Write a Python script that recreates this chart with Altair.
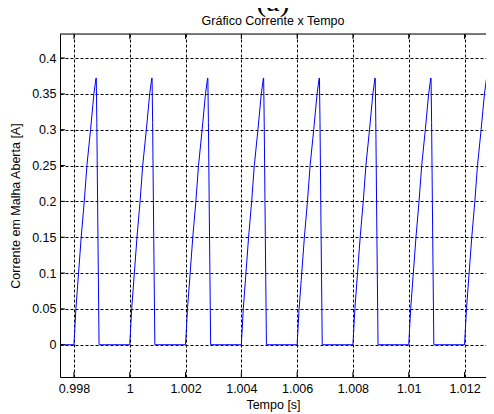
import altair as alt
import pandas as pd

# ---- data ----
cycle_starts = [0.998, 1.000, 1.002, 1.004, 1.006, 1.008, 1.010, 1.012]
shape_dt = [0, 0.00007, 0.000165, 0.00026, 0.00037, 0.000465, 0.000595,
            0.000715, 0.00079, 0.0008, 0.00082, 0.00086, 0.0009]
shape_val = [0, 0.05, 0.1, 0.15, 0.2, 0.25, 0.3, 0.35, 0.372, 0.372, 0.31, 0.15, 0]
t_start, t_end = 0.9975, 1.01277
x_ticks = [0.998, 1.0, 1.002, 1.004, 1.006, 1.008, 1.01, 1.012]
y_ticks = [0, 0.05, 0.1, 0.15, 0.2, 0.25, 0.3, 0.35, 0.4]
y_domain = [-0.045, 0.4335]

rows = [{"t": t_start, "i": 0.0}]
for c in cycle_starts:
    for dt, v in zip(shape_dt, shape_val):
        rows.append({"t": round(c + dt, 7), "i": v})
df = pd.DataFrame(rows)
df["k"] = range(len(df))

W, H = 426, 343
FONT = "Liberation Sans"
FS = 12.5

xscale = alt.Scale(domain=[t_start, t_end], nice=False, zero=False)
yscale = alt.Scale(domain=y_domain, nice=False, zero=False)

xaxis = alt.Axis(values=x_ticks, format="~g", grid=True, gridColor="black",
                 gridDash=[3, 2], gridWidth=1, gridOpacity=1, ticks=False,
                 domain=True, domainColor="black", domainWidth=1,
                 labelFont=FONT, labelFontSize=FS, labelColor="black",
                 labelPadding=5, labelFlush=False, labelOverlap=False,
                 title="Tempo [s]", titleFont=FONT, titleFontSize=FS,
                 titleFontWeight="normal", titleColor="black", titlePadding=4)
yaxis = alt.Axis(values=y_ticks, format="~g", grid=True, gridColor="black",
                 gridDash=[3, 2], gridWidth=1, gridOpacity=1, ticks=False,
                 domain=True, domainColor="black", domainWidth=1,
                 labelFont=FONT, labelFontSize=FS, labelColor="black",
                 labelPadding=4, labelFlush=False, labelOverlap=False,
                 title="Corrente em Malha Aberta [A]", titleFont=FONT,
                 titleFontSize=FS, titleFontWeight="normal", titleColor="black",
                 titlePadding=9)

line = alt.Chart(df).mark_line(color="#0000ff", strokeWidth=1, clip=True).encode(
    x=alt.X("t:Q", scale=xscale, axis=xaxis),
    y=alt.Y("i:Q", scale=yscale, axis=yaxis),
    order="k:Q",
)

xt = pd.DataFrame({"t": x_ticks})
yt = pd.DataFrame({"i": y_ticks})
bottom_ticks = alt.Chart(xt).mark_rule(color="black", strokeWidth=1).encode(
    x=alt.X("t:Q", scale=xscale), y=alt.value(H), y2=alt.value(H - 5))
top_ticks = alt.Chart(xt).mark_rule(color="black", strokeWidth=1).encode(
    x=alt.X("t:Q", scale=xscale), y=alt.value(0), y2=alt.value(5))
left_ticks = alt.Chart(yt).mark_rule(color="black", strokeWidth=1).encode(
    y=alt.Y("i:Q", scale=yscale), x=alt.value(0), x2=alt.value(5))
top_border = alt.Chart(pd.DataFrame({"a": [0]})).mark_rule(color="black", strokeWidth=1).encode(
    x=alt.value(0), x2=alt.value(W), y=alt.value(0))

chart = alt.layer(line, bottom_ticks, top_ticks, left_ticks, top_border).properties(
    width=W, height=H,
    title=alt.TitleParams("(a)\u00a0\u00a0\u00a0", font="Liberation Serif", fontSize=30,
                          fontWeight="normal", color="black",
                          subtitle="Gráfico Corrente x Tempo", subtitleFont=FONT,
                          subtitleFontSize=FS, subtitleColor="black",
                          subtitleFontWeight="normal", subtitlePadding=-2,
                          offset=6, anchor="middle", frame="group"),
    autosize=alt.AutoSizeParams(type="none"),
    padding={"left": 52, "top": 26, "right": 0, "bottom": 40},
).configure_view(stroke=None).configure(background="white")

chart.save("out.html", embed_options={"renderer": "svg", "actions": False})
